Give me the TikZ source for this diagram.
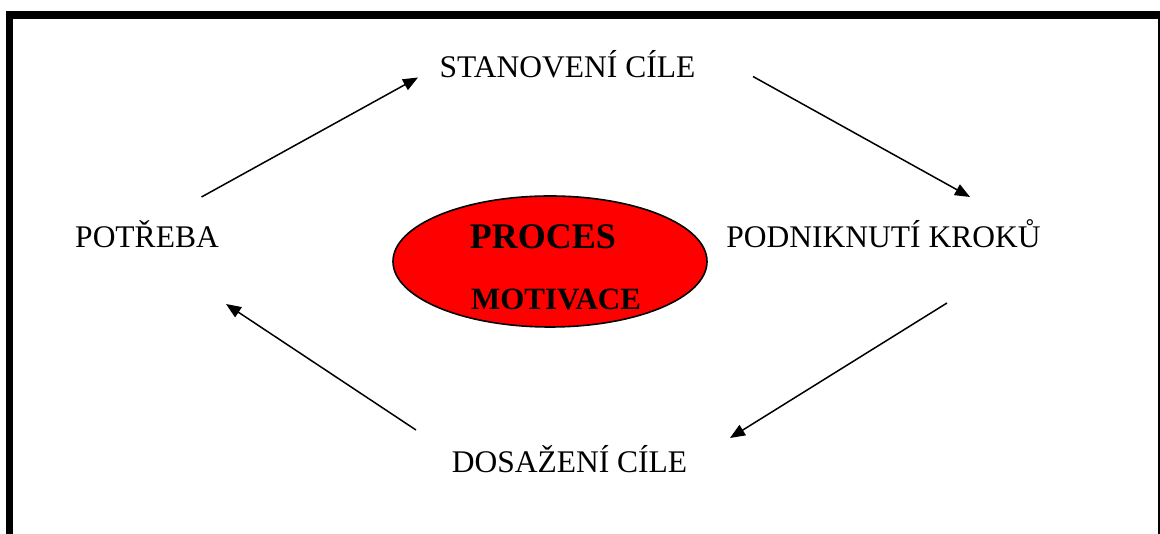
\documentclass[tikz,border=0pt]{standalone}
\usepackage{fontspec}
\setmainfont{Liberation Serif}
\usetikzlibrary{arrows.meta,shapes.geometric}
\begin{document}
\begin{tikzpicture}[x=1pt,y=1pt,
  label/.style={inner sep=0pt,anchor=base,font=\fontsize{31.5}{36}\selectfont},
  bigword/.style={inner sep=0pt,anchor=base,font=\bfseries\fontsize{36}{42}\selectfont},
  smallword/.style={inner sep=0pt,anchor=base,font=\bfseries\fontsize{31}{36}\selectfont},
  flow/.style={line width=1.5pt,-{Triangle[length=15pt,width=12pt]}}]
\useasboundingbox (0,0) rectangle (1160,534);
\clip (0,0) rectangle (1160,534);
% outer frame
\draw[line width=7.5pt] (9.5,-20) -- (9.5,519) -- (1161.5,519) -- (1161.5,-20);
% central ellipse
\node[draw,line width=1.6pt,fill=red,ellipse,minimum width=314pt,minimum height=131pt,inner sep=0pt] (core) at (550,272.5) {};
\node[bigword] (proc) at (543,285) {PROCES};
\node[smallword] (motiv) at (556,224) {MOTIVACE};
% stages of the cycle
\node[label] (goal) at (567.5,456) {STANOVENÍ CÍLE};
\node[label] (steps) at (883.5,286) {PODNIKNUTÍ KROKŮ};
\node[label] (reach) at (569.5,61) {DOSAŽENÍ CÍLE};
\node[label] (need) at (147,286) {POTŘEBA};
% arrow end points
\coordinate (n1) at (201.5,337);
\coordinate (g1) at (418,456.5);
\coordinate (g2) at (753,457.5);
\coordinate (s1) at (970,337);
\coordinate (s2) at (947,231);
\coordinate (r1) at (730,96);
\coordinate (r2) at (416,104);
\coordinate (n2) at (226,230);
\draw[flow] (n1) -- (g1);
\draw[flow] (g2) -- (s1);
\draw[flow] (s2) -- (r1);
\draw[flow] (r2) -- (n2);
\end{tikzpicture}
\end{document}
